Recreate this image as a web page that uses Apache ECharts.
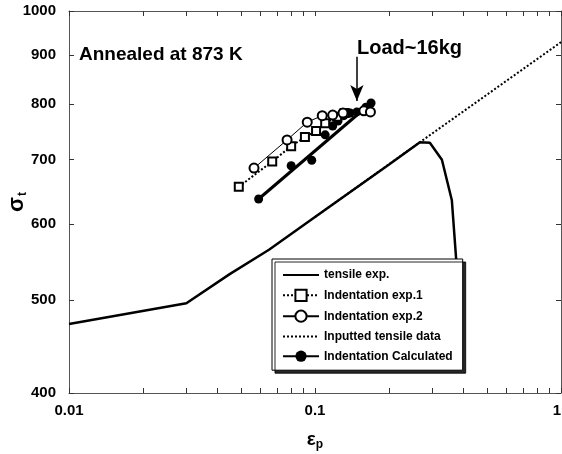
<!DOCTYPE html>
<html>
<head>
<meta charset="utf-8">
<script src="https://cdn.jsdelivr.net/npm/echarts@6/dist/echarts.min.js"></script>
<style>html,body{margin:0;padding:0;background:#fff}#graph{width:562px;height:454px}</style>
</head>
<body>
<div id="graph"></div>
<script>
// tensile test curve
const tensileX = [0.01, 0.03, 0.045, 0.065, 0.1, 0.2, 0.267, 0.293, 0.328, 0.36, 0.39];
const tensileY = [472, 496, 532, 564, 610, 692, 730, 729, 700, 635, 480];
// indentation experiments
const exp1X = [0.049, 0.067, 0.080, 0.091, 0.101, 0.110, 0.123, 0.132];
const exp1Y = [656, 697, 723, 739, 750, 764, 776, 783];
const exp2X = [0.0565, 0.077, 0.093, 0.107, 0.118, 0.130, 0.158, 0.168];
const exp2Y = [686, 734, 766, 778, 779, 783, 787, 785];
// inputted tensile data (extrapolated)
const inputX = [0.1, 0.267, 1];
const inputY = [610, 730, 928];
// indentation calculated points + fitted line
const calcX = [0.059, 0.080, 0.097, 0.110, 0.118, 0.124, 0.131, 0.139, 0.148, 0.161, 0.169];
const calcY = [637, 690, 699, 743, 759, 768, 778, 783, 785, 794, 802];
const calcLineX = [0.059, 0.169];
const calcLineY = [637, 802];
// load arrow
const arrowX = 0.148;
const arrowY = [896, 806];
// ticks
const yTicks = [400, 500, 600, 700, 800, 900, 1000];
const xTicks = [0.01, 0.02, 0.03, 0.04, 0.05, 0.06, 0.07, 0.08, 0.09,
                0.1, 0.2, 0.3, 0.4, 0.5, 0.6, 0.7, 0.8, 0.9, 1];

const zip = (xs, ys) => xs.map((x, i) => [x, ys[i]]);
const FONT = 'Liberation Sans';

var myChart = echarts.init(document.getElementById('graph'));

const baseX = {
  type: 'log', logBase: 10, min: 0.01, max: 1,
  axisLine: { lineStyle: { color: '#555', width: 1 } },
  axisTick: { inside: true, length: 5, customValues: xTicks, lineStyle: { color: '#333' } },
  splitLine: { show: false }
};
const baseY = {
  type: 'log', logBase: 10, min: 400, max: 1000,
  axisLine: { lineStyle: { color: '#555', width: 1 } },
  axisTick: { inside: true, length: 5, customValues: yTicks, lineStyle: { color: '#333' } },
  splitLine: { show: false }
};

const options = {
  animation: false,
  grid: { left: 69, right: 1, top: 11, bottom: 61, outerBoundsMode: 'none', containLabel: false },
  xAxis: [
    Object.assign({}, baseX, {
      position: 'bottom',
      axisLabel: {
        fontFamily: FONT, fontWeight: 'bold', fontSize: 15, color: '#000', margin: 10,
        alignMaxLabel: 'right',
        formatter: v => String(v)
      },
      name: '{e|ε}{p|p}', nameLocation: 'middle', nameGap: 36, nameMoveOverlap: false,
      nameTextStyle: {
        rich: {
          e: { fontFamily: FONT, fontWeight: 'bold', fontSize: 19, color: '#000' },
          p: { fontFamily: FONT, fontWeight: 'bold', fontSize: 12, color: '#000', padding: [10, 0, 0, 0] }
        }
      }
    }),
    Object.assign({}, baseX, { position: 'top', axisLabel: { show: false } })
  ],
  yAxis: [
    Object.assign({}, baseY, {
      position: 'left',
      axisLabel: {
        fontFamily: FONT, fontWeight: 'bold', fontSize: 15, color: '#000', margin: 13,
        customValues: yTicks, formatter: v => String(v)
      },
      name: '{s|σ}{t|t}', nameLocation: 'middle', nameGap: 40, nameRotate: 90, nameMoveOverlap: false,
      nameTextStyle: {
        rich: {
          s: { fontFamily: FONT, fontWeight: 'bold', fontSize: 22, color: '#000' },
          t: { fontFamily: FONT, fontWeight: 'bold', fontSize: 12, color: '#000', padding: [12, 0, 0, 1] }
        }
      }
    }),
    Object.assign({}, baseY, { position: 'right', axisLabel: { show: false } })
  ],
  legend: {
    orient: 'vertical',
    left: 272, top: 259,
    padding: [10, 10, 8, 10],
    itemGap: 7.7,
    itemWidth: 36, itemHeight: 14,
    backgroundColor: '#fff',
    borderColor: '#000', borderWidth: 1,
    shadowColor: 'rgba(0,0,0,0.85)', shadowBlur: 0, shadowOffsetX: 3, shadowOffsetY: 3,
    textStyle: { fontFamily: FONT, fontWeight: 'bold', fontSize: 12, color: '#000' },
    data: [
      { name: 'tensile exp.', itemStyle: { opacity: 0 } },
      { name: 'Indentation exp.1' },
      { name: 'Indentation exp.2' },
      { name: 'Inputted tensile data', itemStyle: { opacity: 0 } },
      { name: 'Indentation Calculated' }
    ]
  },
  graphic: [
    { type: 'text', left: 79, top: 45,
      style: { text: 'Annealed at 873 K', fontFamily: FONT, fontWeight: 'bold', fontSize: 19, fill: '#000' } },
    { type: 'text', left: 357, top: 38,
      style: { text: 'Load~16kg', fontFamily: FONT, fontWeight: 'bold', fontSize: 20, fill: '#000' } }
  ],
  series: [
    {
      name: 'tensile exp.', type: 'line', symbol: 'none',
      data: zip(tensileX, tensileY),
      lineStyle: { color: '#000', width: 2.5 },
      itemStyle: { color: '#000' }
    },
    {
      name: 'Indentation exp.1', type: 'line', symbol: 'emptyRect', symbolSize: 8,
      data: zip(exp1X, exp1Y),
      lineStyle: { color: '#000', width: 2, type: 'dotted' },
      itemStyle: { color: '#000', borderWidth: 1 }
    },
    {
      // centre dots inside the squares
      name: 'Indentation exp.1', type: 'scatter', symbol: 'rect', symbolSize: 2,
      data: zip(exp1X, exp1Y),
      itemStyle: { color: '#000', opacity: 1 }
    },
    {
      name: 'Indentation exp.2', type: 'line', symbol: 'emptyCircle', symbolSize: 9,
      data: zip(exp2X, exp2Y),
      lineStyle: { color: '#000', width: 1 },
      itemStyle: { color: '#000', borderWidth: 1 }
    },
    {
      name: 'Inputted tensile data', type: 'line', symbol: 'none',
      data: zip(inputX, inputY),
      lineStyle: { color: '#000', width: 2, type: 'dotted' },
      itemStyle: { color: '#000' },
      markLine: {
        silent: true, symbol: ['none', 'arrow'], symbolSize: [10, 16],
        label: { show: false },
        lineStyle: { color: '#000', width: 1.5, type: 'solid' },
        data: [[{ coord: [arrowX, arrowY[0]] }, { coord: [arrowX, arrowY[1]] }]]
      }
    },
    {
      name: 'Indentation Calculated', type: 'line', symbol: 'circle', symbolSize: 10, showSymbol: false,
      data: zip(calcLineX, calcLineY),
      lineStyle: { color: '#000', width: 3 },
      itemStyle: { color: '#000' }
    },
    {
      name: 'Indentation Calculated', type: 'scatter', symbol: 'circle', symbolSize: 9,
      data: zip(calcX, calcY),
      itemStyle: { color: '#000', opacity: 1 }
    }
  ]
};

myChart.setOption(options);
</script>
</body>
</html>
